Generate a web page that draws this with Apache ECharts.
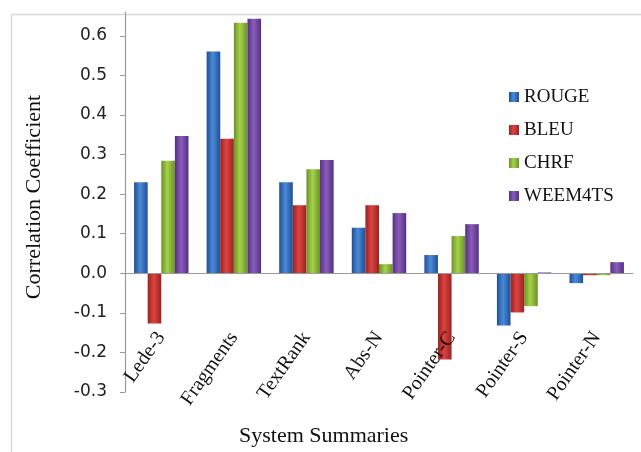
<!DOCTYPE html>
<html>
<head>
<meta charset="utf-8">
<script src="https://cdn.jsdelivr.net/npm/echarts@6/dist/echarts.min.js"></script>
<style>html,body{margin:0;padding:0;background:#fff}#c{width:641px;height:452px}</style>
</head>
<body>
<div id="c"></div>
<script>
const categories = ['Lede-3', 'Fragments', 'TextRank', 'Abs-N', 'Pointer-C', 'Pointer-S', 'Pointer-N'];
const seriesNames = ['ROUGE', 'BLEU', 'CHRF', 'WEEM4TS'];
const rouge = [0.23, 0.56, 0.23, 0.115, 0.046, -0.132, -0.025];
const bleu = [-0.127, 0.34, 0.172, 0.172, -0.218, -0.099, -0.005];
const chrf = [0.284, 0.633, 0.263, 0.023, 0.094, -0.083, -0.005];
const weem4ts = [0.347, 0.643, 0.286, 0.152, 0.124, 0.002, 0.028];
const yTicks = [-0.3, -0.2, -0.1, 0.0, 0.1, 0.2, 0.3, 0.4, 0.5, 0.6];

const palettes = [
  ['#1f4f96', '#4a8ad8', '#1f4f96'],
  ['#9a2220', '#dc4440', '#9a2220'],
  ['#6b9228', '#a6d24a', '#6b9228'],
  ['#553181', '#8a5cbc', '#553181']
];
function grad(p) {
  return new echarts.graphic.LinearGradient(0, 0, 1, 0, [
    {offset: 0, color: p[0]}, {offset: 0.45, color: p[1]}, {offset: 1, color: p[2]}
  ]);
}
const dataSets = [rouge, bleu, chrf, weem4ts];

const chart = echarts.init(document.getElementById('c'));
chart.setOption({
  animation: false,
  backgroundColor: '#fff',
  graphic: [{
    type: 'rect', left: 9, top: 12, shape: {width: 700, height: 500},
    style: {fill: 'none', stroke: '#d9d9d9', lineWidth: 1.5}, silent: true, z: -1
  }],
  title: {
    text: 'System Summaries', left: 239, top: 425,
    textStyle: {fontFamily: 'Liberation Serif', fontSize: 22, fontWeight: 'normal', color: '#111'},
    padding: 0
  },
  legend: {
    orient: 'vertical', left: 509, top: 87, itemWidth: 10, itemHeight: 10, itemGap: 13,
    icon: 'rect', padding: 0,
    textStyle: {fontFamily: 'Liberation Serif', fontSize: 19, color: '#111', lineHeight: 20},
    data: seriesNames
  },
  grid: {left: 125, right: 8, top: 12, bottom: 60, containLabel: false, outerBoundsMode: 'none'},
  xAxis: {
    type: 'category', data: categories, z: 5,
    axisLine: {onZero: true, lineStyle: {color: '#9a9a9a', width: 1.2}},
    axisTick: {inside: true, length: 6, lineStyle: {color: '#9a9a9a'}},
    axisLabel: {rotate: 55, margin: -58, interval: 0, fontFamily: 'Liberation Serif', fontSize: 20, color: '#111'}
  },
  yAxis: {
    type: 'value', min: -0.3, max: 0.66,
    name: 'Correlation Coefficient', nameLocation: 'middle', nameGap: 80, nameRotate: 90,
    nameTextStyle: {fontFamily: 'Liberation Serif', fontSize: 22, color: '#111', padding: [0, 0, 0, 10]},
    axisLine: {show: true, lineStyle: {color: '#9a9a9a', width: 1.2}},
    axisTick: {show: true, length: 5, lineStyle: {color: '#9a9a9a'}, customValues: yTicks},
    axisLabel: {fontFamily: 'DejaVu Sans', fontSize: 17, color: '#222', margin: 18,
      customValues: yTicks, formatter: v => Number(v).toFixed(1)},
    splitLine: {show: false}
  },
  series: seriesNames.map((n, i) => ({
    name: n, type: 'bar', data: dataSets[i],
    barGap: '0%', barCategoryGap: '25%',
    itemStyle: {color: grad(palettes[i])}
  }))
});
</script>
</body>
</html>
